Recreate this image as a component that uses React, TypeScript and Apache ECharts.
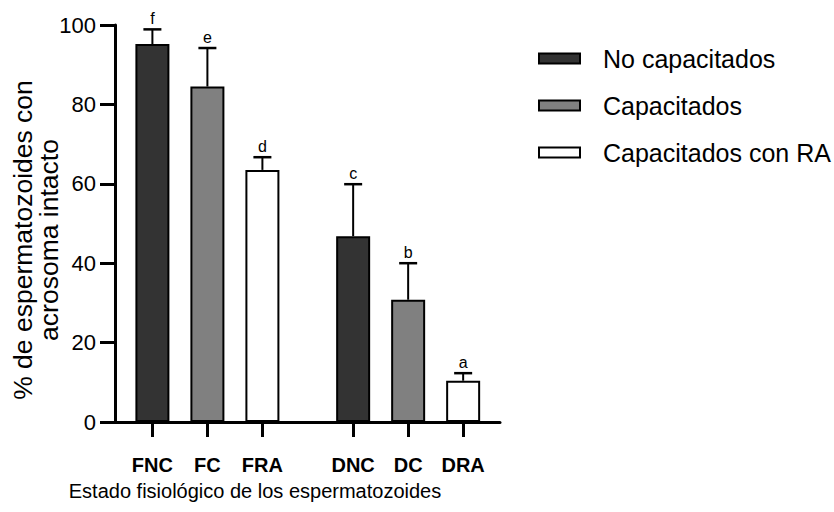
import React, { useEffect, useRef } from "react";
import * as echarts from "echarts";

const categories = ["FNC", "FC", "FRA", "DNC", "DC", "DRA"];
const positions = [1, 2, 3, 4.65, 5.65, 6.65];
const means = [95.2, 84.5, 63.5, 46.8, 30.8, 10.4];
const sds = [3.7, 9.7, 3.2, 13.1, 9.2, 1.9];
const letters = ["f", "e", "d", "c", "b", "a"];
const groupNames = ["No capacitados", "Capacitados", "Capacitados con RA"];
const groupColors = ["#333333", "#808080", "#ffffff"];
const groupOf = [0, 1, 2, 0, 1, 2];
const yTicks = [0, 20, 40, 60, 80, 100];

const FONT = "'Liberation Sans', Arial, Helvetica, sans-serif";

export default function App() {
  const ref = useRef<HTMLDivElement>(null);

  useEffect(() => {
    if (!ref.current) return;
    const chart = echarts.init(ref.current, undefined, { renderer: "svg" });

    const barSeries = groupNames.map((name, g) => ({
      name,
      type: "bar",
      barWidth: 34,
      barGap: "-100%",
      itemStyle: { color: groupColors[g], borderColor: "#000", borderWidth: 2 },
      data: categories
        .map((_, i) => i)
        .filter((i) => groupOf[i] === g)
        .map((i) => [positions[i], means[i]]),
      z: 2,
    }));

    const errData = categories.map((_, i) => [positions[i], means[i], sds[i]]);

    const option: any = {
      animation: false,
      textStyle: { fontFamily: FONT },
      grid: { left: 115, right: 334, top: 25, bottom: 90 },
      legend: {
        orient: "vertical",
        left: 538,
        top: 46,
        padding: 0,
        itemWidth: 41,
        itemHeight: 10,
        itemGap: 22,
        icon: "rect",
        data: groupNames,
        textStyle: { fontSize: 25, fontFamily: FONT, color: "#000", padding: [0, 0, 0, 18] },
      },
      xAxis: {
        type: "value",
        min: 0.32,
        max: 7.32,
        splitLine: { show: false },
        axisLine: { show: true, onZero: false, lineStyle: { color: "#000", width: 3 } },
        axisTick: { show: true, customValues: positions, length: 15, lineStyle: { color: "#000", width: 3 } },
        axisLabel: {
          customValues: positions,
          formatter: (v: number) => {
            let best = 0;
            positions.forEach((p, i) => {
              if (Math.abs(p - v) < Math.abs(positions[best] - v)) best = i;
            });
            return categories[best];
          },
          fontWeight: "bold",
          fontSize: 20,
          color: "#000",
          fontFamily: FONT,
          margin: 33,
        },
      },
      yAxis: {
        type: "value",
        min: yTicks[0],
        max: yTicks[yTicks.length - 1],
        interval: yTicks[1] - yTicks[0],
        splitLine: { show: false },
        axisLine: { show: true, lineStyle: { color: "#000", width: 3 } },
        axisTick: { show: true, length: 15, lineStyle: { color: "#000", width: 3 } },
        axisLabel: { fontSize: 22, color: "#000", fontFamily: FONT, margin: 19 },
      },
      graphic: [
        {
          type: "text",
          x: 255,
          y: 481,
          style: {
            text: "Estado fisiológico de los espermatozoides",
            textAlign: "center",
            textVerticalAlign: "top",
            fontSize: 20,
            fontFamily: FONT,
            fill: "#000",
          },
        },
        {
          type: "text",
          x: 36,
          y: 240,
          rotation: Math.PI / 2,
          style: {
            text: "% de espermatozoides con\nacrosoma intacto",
            textAlign: "center",
            textVerticalAlign: "middle",
            fontSize: 26.5,
            lineHeight: 26,
            fontFamily: FONT,
            fill: "#000",
          },
        },
      ],
      series: [
        ...barSeries,
        {
          type: "custom",
          name: "err",
          z: 5,
          encode: { x: 0, y: 1 },
          data: errData,
          renderItem: (params: any, api: any) => {
            const x = api.value(0);
            const m = api.value(1);
            const s = api.value(2);
            const p0 = api.coord([x, m]);
            const p1 = api.coord([x, m + s]);
            return {
              type: "group",
              children: [
                {
                  type: "line",
                  shape: { x1: p0[0], y1: p0[1], x2: p1[0], y2: p1[1] },
                  style: { stroke: "#000", lineWidth: 2 },
                },
                {
                  type: "line",
                  shape: { x1: p1[0] - 9, y1: p1[1], x2: p1[0] + 9, y2: p1[1] },
                  style: { stroke: "#000", lineWidth: 2.5 },
                },
                {
                  type: "text",
                  x: p1[0],
                  y: p1[1] - 3,
                  style: {
                    text: letters[params.dataIndex],
                    textAlign: "center",
                    textVerticalAlign: "bottom",
                    fontSize: 16,
                    fontFamily: FONT,
                    fill: "#000",
                  },
                },
              ],
            };
          },
        },
      ],
    };

    chart.setOption(option);
    return () => chart.dispose();
  }, []);

  return (
    <div
      ref={ref}
      style={{ position: "absolute", left: 0, top: 0, width: 834, height: 512, background: "#fff" }}
    />
  );
}
